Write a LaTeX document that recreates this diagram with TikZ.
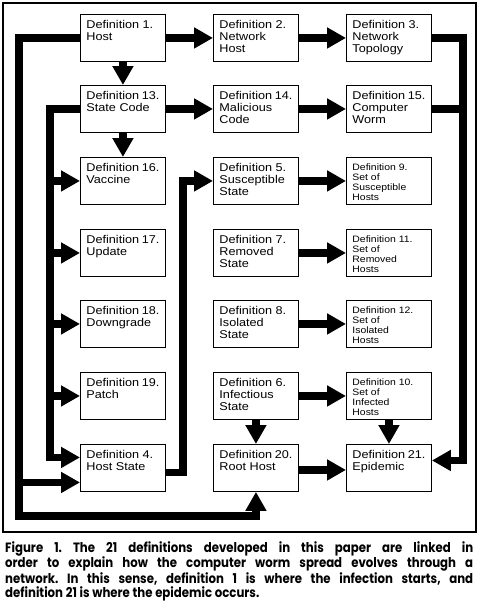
\documentclass[tikz,border=0pt]{standalone}
\usepackage{fontspec}
\setmainfont{Liberation Sans}[FakeStretch=1.12]
\newfontfamily\capfont{Poppins}[FakeStretch=0.87]
\usetikzlibrary{arrows.meta}
\newcommand{\bxt}[1]{\parbox[t][35pt][t]{73pt}{\raggedright\hbadness=10000\hfuzz=20pt #1}}
\newcommand{\capline}[1]{\makebox[468pt][s]{#1}}
\begin{document}
\begin{tikzpicture}[x=1pt,y=-1pt,
  box/.style={draw, line width=0.9pt, inner xsep=6pt, inner ysep=6pt, anchor=north west,
    font=\fontsize{11.3}{12}\selectfont},
  smallbox/.style={box, font=\fontsize{9.3}{10}\selectfont},
  ln/.style={line width=7.5pt, line join=miter},
  arr/.style={ln, -{Triangle[length=19pt,width=20pt]}}]
\useasboundingbox (0,0) rectangle (479,603);
\draw[line width=1.2pt] (3,3) rectangle (476,532);
% row 1
\node[box] (n1) at (80,14) {\bxt{Definition~1.\\Host}};
\node[box] (n2) at (213,14) {\bxt{Definition~2.\\Network\\Host}};
\node[box] (n3) at (346,14) {\bxt{Definition~3.\\Network\\Topology}};
% row 2
\node[box] (n13) at (80,85) {\bxt{Definition~13.\\State~Code}};
\node[box] (n14) at (213,85) {\bxt{Definition~14.\\Malicious\\Code}};
\node[box] (n15) at (346,85) {\bxt{Definition~15.\\Computer\\Worm}};
% row 3
\node[box] (n16) at (80,157) {\bxt{Definition~16.\\Vaccine}};
\node[box] (n5) at (213,157) {\bxt{Definition~5.\\Susceptible\\State}};
\node[smallbox] (n9) at (346,157) {\bxt{Definition~9.\\Set~of\\Susceptible\\Hosts}};
% row 4
\node[box] (n17) at (80,229) {\bxt{Definition~17.\\Update}};
\node[box] (n7) at (213,229) {\bxt{Definition~7.\\Removed\\State}};
\node[smallbox] (n11) at (346,229) {\bxt{Definition~11.\\Set~of\\Removed\\Hosts}};
% row 5
\node[box] (n18) at (80,300) {\bxt{Definition~18.\\Downgrade}};
\node[box] (n8) at (213,300) {\bxt{Definition~8.\\Isolated\\State}};
\node[smallbox] (n12) at (346,300) {\bxt{Definition~12.\\Set~of\\Isolated\\Hosts}};
% row 6
\node[box] (n19) at (80,372) {\bxt{Definition~19.\\Patch}};
\node[box] (n6) at (213,372) {\bxt{Definition~6.\\Infectious\\State}};
\node[smallbox] (n10) at (346,372) {\bxt{Definition~10.\\Set~of\\Infected\\Hosts}};
% row 7
\node[box] (n4) at (80,444) {\bxt{Definition~4.\\Host~State}};
\node[box] (n20) at (213,444) {\bxt{Definition~20.\\Root~Host}};
\node[box] (n21) at (346,444) {\bxt{Definition~21.\\Epidemic}};
% guide coordinates
\coordinate (L) at (19,516);
\coordinate (M) at (50,0);
\coordinate (R) at (463,0);
% horizontal arrows
\draw[arr] (n1.east) -- (n2.west);
\draw[arr] (n2.east) -- (n3.west);
\draw[arr] (n13.east) -- (n14.west);
\draw[arr] (n14.east) -- (n15.west);
\draw[arr] (n5.east) -- (n9.west);
\draw[arr] (n7.east) -- (n11.west);
\draw[arr] (n8.east) -- (n12.west);
\draw[arr] (n6.east) -- (n10.west);
\draw[arr] ([yshift=-2pt]n20.east) -- ([yshift=-2pt]n21.west);
% vertical arrows
\draw[arr] (n1.south) -- (n13.north);
\draw[arr] (n13.south) -- (n16.north);
\draw[arr] (n6.south) -- (n20.north);
\draw[arr] (n10.south) -- (n21.north);
% right trunk
\draw[arr] (n3.east) -| ([yshift=7.5pt]n21.east -| R) -- ([yshift=7.5pt]n21.east);
\draw[ln] (n15.east) -- (n15.east -| R);
% outer left trunk
\draw[arr] (n1.west) -| (L) -| (n20.south);
\draw[arr] ([yshift=-14.5pt]n4.west -| L) -- ([yshift=-14.5pt]n4.west);
% inner left trunk
\draw[arr] (n13.west) -| ([yshift=10.5pt]n4.west -| M) -- ([yshift=10.5pt]n4.west);
\draw[arr] (n16.west -| M) -- (n16.west);
\draw[arr] (n17.west -| M) -- (n17.west);
\draw[arr] (n18.west -| M) -- (n18.west);
\draw[arr] (n19.west -| M) -- (n19.west);
% host state to susceptible state
\draw[arr] ([yshift=-4.5pt]n4.east) -| ([xshift=-30pt]n5.west) -- (n5.west);
% caption
\node[anchor=north west, inner sep=0pt] (cap) at (5,541) {\parbox{468pt}{\capfont\bfseries\fontsize{13.5}{14}\selectfont\frenchspacing
\spaceskip=0.2em plus 2em minus 0.05em\relax
\capline{Figure 1. The 21 definitions developed in this paper are linked in}\\
\capline{order to explain how the computer worm spread evolves through a}\\
\capline{network. In this sense, definition 1 is where the infection starts, and}\\
definition 21 is where the epidemic occurs.}};
\end{tikzpicture}
\end{document}
